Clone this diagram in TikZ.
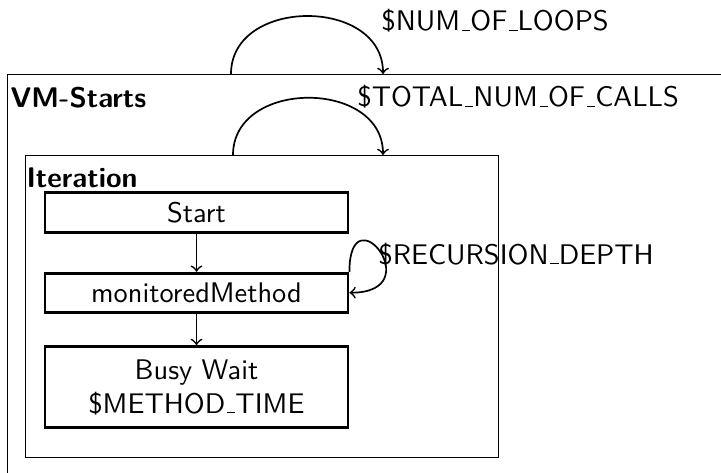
\documentclass[tikz,border=0pt]{standalone}
\usetikzlibrary{positioning, calc}
\newcommand\pxu{0.01239cm}
% short underscore sitting on the baseline
\renewcommand{\_}{\leavevmode\kern.06em\vbox{\hrule width.3em}}
\tikzset {
  frame/.style = {draw, rectangle, anchor=north west, inner sep=0pt},
  stepbox/.style = {draw, line width=1pt, rectangle, minimum width=303*\pxu, minimum height=39*\pxu, align=center},
  title/.style = {anchor=base west, inner sep=0pt, font=\sffamily\bfseries},
  param/.style = {anchor=base west, inner sep=0pt},
  line/.style = {->, semithick, color=black},
  repeat/.style = {out=90, in=90, looseness=1.3},
}

\begin{document}
\begin{tikzpicture}[x=\pxu, y=-\pxu, font=\sffamily]
    \clip (0,0) rectangle (721,473);

    % outer and inner frames
    \node[frame, name=vm, minimum width=780*\pxu, minimum height=450*\pxu] (vm) at (7,74) {};
    \node[title] (vmtitle) at (10,108) {VM-Starts};
    \node[frame, name=iter, minimum width=473*\pxu, minimum height=302*\pxu] (iter) at (25,155) {};
    \node[title] (itertitle) at (26,187) {Iteration};

    % steps
    \node[stepbox, name=start] (start) at (196.5,212.5) {Start};
    \node[stepbox, name=monitored, below=0.47cm of start] (monitored) {monitoredMethod};
    \node[stepbox, name=busy, minimum height=81*\pxu, below=0.39cm of monitored] (busy) {Busy Wait\\\$METHOD\_TIME};

    \draw[line, ->] (start) -- (monitored);
    \draw[line, ->] (monitored) -- (busy);
    \draw[line, ->] (monitored.north east) to[out=90, in=0, looseness=10] (monitored.east);
    \node[param] (depth) at (378,264) {\$RECURSION\_DEPTH};

    % repetitions
    \coordinate (loopsout) at ($(vm.north west)+(224,0)$);
    \coordinate (loopsin) at ($(vm.north west)+(376,0)$);
    \coordinate (callsout) at ($(iter.north west)+(208,0)$);
    \coordinate (callsin) at ($(iter.north west)+(358,0)$);
    \draw[line, ->] (loopsout) to[repeat] (loopsin);
    \draw[line, ->] (callsout) to[repeat] (callsin);
    \node[param] (loops) at (381,31) {\$NUM\_OF\_LOOPS};
    \node[param] (calls) at (357,107) {\$TOTAL\_NUM\_OF\_CALLS};
\end{tikzpicture}
\end{document}
